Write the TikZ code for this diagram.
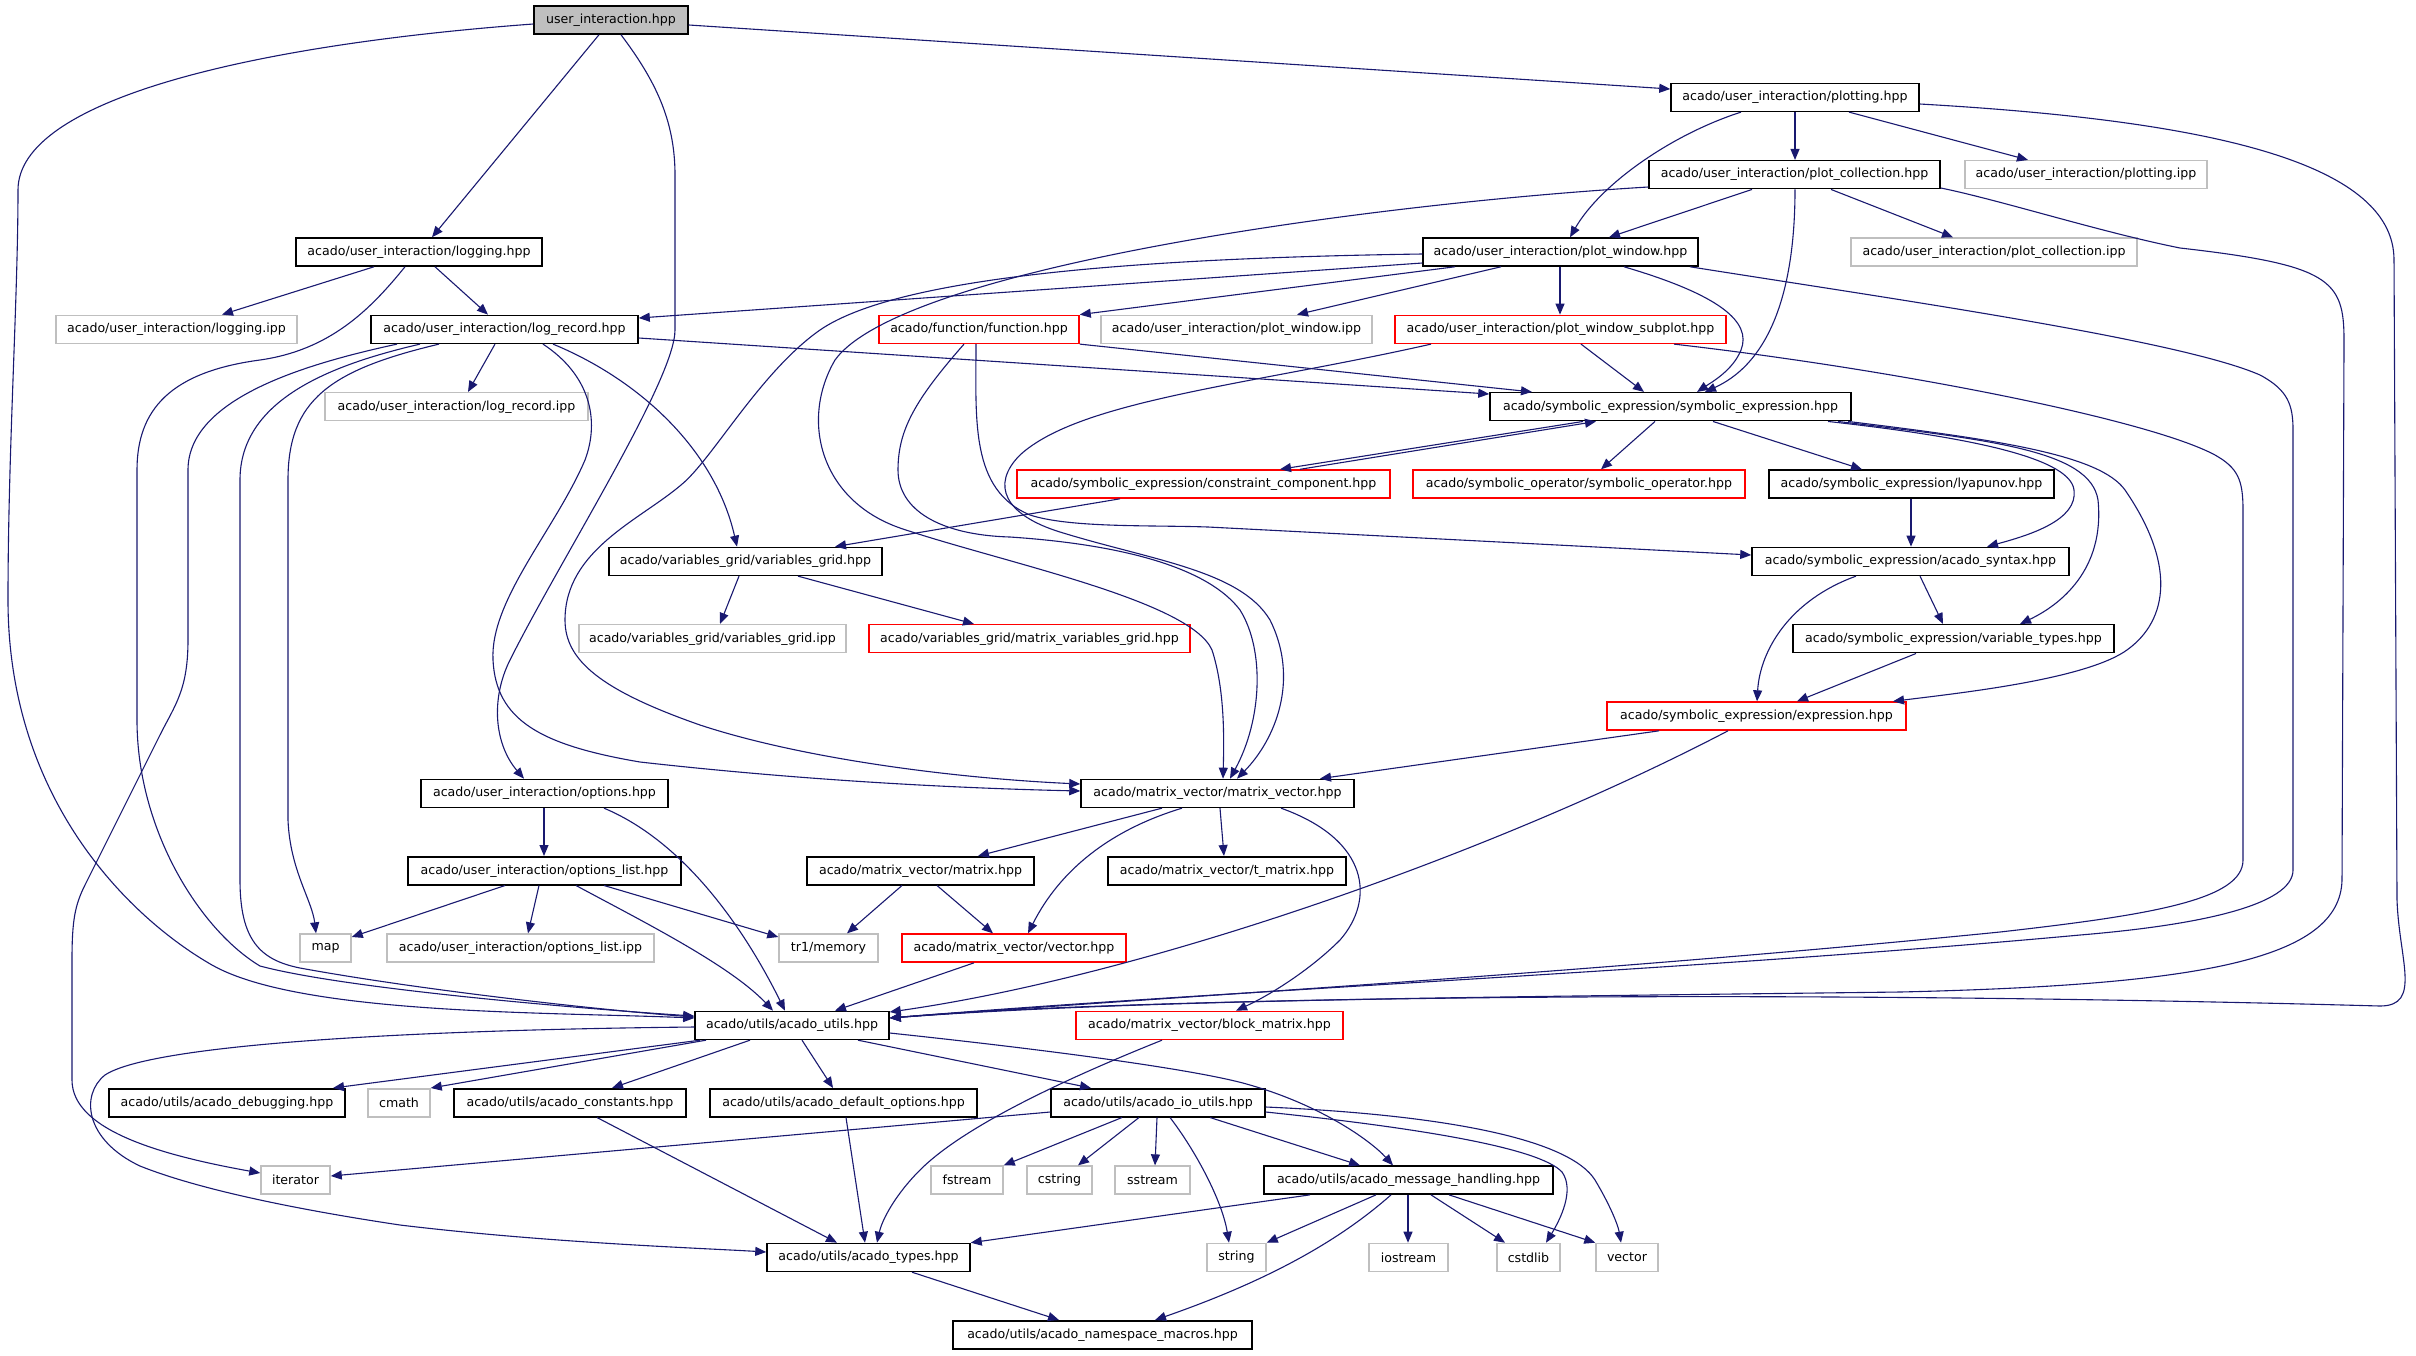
\documentclass[tikz,border=0pt]{standalone}
\usepackage{fontspec}
\setmainfont{DejaVu Sans}
\usetikzlibrary{arrows.meta}
\definecolor{edgec}{HTML}{191970}
\definecolor{grayb}{HTML}{BFBFBF}
\definecolor{redb}{HTML}{FF0000}
\newcommand{\gn}[6]{\node[#1,minimum width={(#4)-(#3)}] (#2) at ({((#3)+(#4))/2},{20+77.34*(#5)}) {#6};}
\begin{document}
\begin{tikzpicture}[x=1pt,y=-1pt,
  nbase/.style={rectangle,inner sep=0pt,minimum height=28pt,font=\fontsize{12.6}{15}\selectfont,line width=1.5pt,fill=white},
  nblk/.style={nbase,draw=black},
  ngray/.style={nbase,draw=grayb},
  nred/.style={nbase,draw=redb},
  nroot/.style={nbase,draw=black,fill=grayb},
  dep/.style={draw=edgec,line width=1.1pt,-{Triangle[length=11pt,width=9pt]}}]
\fill[white] (0,0) rectangle (2416,1355);
\useasboundingbox (0,0) rectangle (2416,1355);
% nodes
\gn{nroot}{ui}{534}{688}{0}{user\_interaction.hpp}
\gn{nblk}{plotting}{1671}{1919}{1}{acado/user\_interaction/plotting.hpp}
\gn{nblk}{pc}{1649}{1940}{2}{acado/user\_interaction/plot\_collection.hpp}
\gn{ngray}{plottingipp}{1965}{2207}{2}{acado/user\_interaction/plotting.ipp}
\gn{nblk}{logging}{296}{542}{3}{acado/user\_interaction/logging.hpp}
\gn{nblk}{pw}{1423}{1698}{3}{acado/user\_interaction/plot\_window.hpp}
\gn{ngray}{pcipp}{1851}{2137}{3}{acado/user\_interaction/plot\_collection.ipp}
\gn{ngray}{loggingipp}{56}{297}{4}{acado/user\_interaction/logging.ipp}
\gn{nblk}{logrec}{371}{638}{4}{acado/user\_interaction/log\_record.hpp}
\gn{nred}{func}{879}{1079}{4}{acado/function/function.hpp}
\gn{ngray}{pwipp}{1101}{1372}{4}{acado/user\_interaction/plot\_window.ipp}
\gn{nred}{subplot}{1395}{1726}{4}{acado/user\_interaction/plot\_window\_subplot.hpp}
\gn{ngray}{logrecipp}{325}{588}{5}{acado/user\_interaction/log\_record.ipp}
\gn{nblk}{se}{1490}{1851}{5}{acado/symbolic\_expression/symbolic\_expression.hpp}
\gn{nred}{cc}{1017}{1390}{6}{acado/symbolic\_expression/constraint\_component.hpp}
\gn{nred}{so}{1413}{1745}{6}{acado/symbolic\_operator/symbolic\_operator.hpp}
\gn{nblk}{lyap}{1769}{2054}{6}{acado/symbolic\_expression/lyapunov.hpp}
\gn{nblk}{vg}{609}{882}{7}{acado/variables\_grid/variables\_grid.hpp}
\gn{nblk}{syntax}{1752}{2069}{7}{acado/symbolic\_expression/acado\_syntax.hpp}
\gn{ngray}{vgipp}{579}{846}{8}{acado/variables\_grid/variables\_grid.ipp}
\gn{nred}{mvg}{869}{1190}{8}{acado/variables\_grid/matrix\_variables\_grid.hpp}
\gn{nblk}{vt}{1793}{2114}{8}{acado/symbolic\_expression/variable\_types.hpp}
\gn{nred}{expr}{1607}{1906}{9}{acado/symbolic\_expression/expression.hpp}
\gn{nblk}{options}{421}{668}{10}{acado/user\_interaction/options.hpp}
\gn{nblk}{mv}{1081}{1354}{10}{acado/matrix\_vector/matrix\_vector.hpp}
\gn{nblk}{optlist}{408}{681}{11}{acado/user\_interaction/options\_list.hpp}
\gn{nblk}{matrix}{807}{1034}{11}{acado/matrix\_vector/matrix.hpp}
\gn{nblk}{tmatrix}{1108}{1346}{11}{acado/matrix\_vector/t\_matrix.hpp}
\gn{ngray}{map}{300}{351}{12}{map}
\gn{ngray}{optlistipp}{387}{654}{12}{acado/user\_interaction/options\_list.ipp}
\gn{ngray}{tr1}{779}{878}{12}{tr1/memory}
\gn{nred}{vector}{902}{1126}{12}{acado/matrix\_vector/vector.hpp}
\gn{nblk}{au}{695}{889}{13}{acado/utils/acado\_utils.hpp}
\gn{nred}{block}{1076}{1343}{13}{acado/matrix\_vector/block\_matrix.hpp}
\gn{nblk}{debug}{109}{345}{14}{acado/utils/acado\_debugging.hpp}
\gn{ngray}{cmath}{368}{430}{14}{cmath}
\gn{nblk}{const}{454}{686}{14}{acado/utils/acado\_constants.hpp}
\gn{nblk}{defopt}{710}{977}{14}{acado/utils/acado\_default\_options.hpp}
\gn{nblk}{io}{1051}{1265}{14}{acado/utils/acado\_io\_utils.hpp}
\gn{ngray}{iterator}{261}{330}{15}{iterator}
\gn{ngray}{fstream}{931}{1003}{15}{fstream}
\gn{ngray}{cstring}{1027}{1092}{15}{cstring}
\gn{ngray}{sstream}{1115}{1190}{15}{sstream}
\gn{nblk}{msg}{1264}{1553}{15}{acado/utils/acado\_message\_handling.hpp}
\gn{nblk}{types}{767}{970}{16}{acado/utils/acado\_types.hpp}
\gn{ngray}{string}{1207}{1266}{16}{string}
\gn{ngray}{iostream}{1369}{1448}{16}{iostream}
\gn{ngray}{cstdlib}{1497}{1560}{16}{cstdlib}
\gn{ngray}{vectorstd}{1596}{1658}{16}{vector}
\gn{nblk}{ns}{953}{1252}{17}{acado/utils/acado\_namespace\_macros.hpp}
% edges from user_interaction
\draw[dep] (ui.west|-0,24) .. controls (250,45) and (18,100) .. (18,190) .. controls (18,300) and (8,450) .. (8,600) .. controls (8,800) and (130,918) .. (212,965) .. controls (300,1015) and (550,1012) .. (au.west|-0,1018);
\draw[dep] (ui.south-|599,0) -- (logging.north-|432,0);
\draw[dep] (ui.south-|621,0) .. controls (655,80) and (675,120) .. (675,175) -- (675,330) .. controls (675,380) and (560,560) .. (510,660) .. controls (490,700) and (495,745) .. (options.north-|524,0);
\draw[dep] (ui.east|-0,25) -- (plotting.west|-0,89);
% plotting
\draw[dep] (plotting.south-|1795,0) -- (pc.north-|1795,0);
\draw[dep] (plotting.south-|1849,0) -- (plottingipp.north-|2028,0);
\draw[dep] (plotting.south-|1741,0) .. controls (1670,135) and (1600,185) .. (pw.north-|1570,0);
\draw[dep] (plotting.east|-0,104) .. controls (2200,120) and (2394,160) .. (2394,260) -- (2397,900) .. controls (2399,960) and (2422,1006) .. (2380,1006) .. controls (1800,990) and (1200,995) .. (au.east|-0,1018);
% plot_collection
\draw[dep] (pc.south-|1831,0) -- (pcipp.north-|1953,0);
\draw[dep] (pc.south-|1752,0) -- (pw.north-|1609,0);
\draw[dep] (pc.south-|1795,0) .. controls (1795,280) and (1775,360) .. (se.north-|1705,0);
\draw[dep] (pc.west|-0,187) .. controls (1350,205) and (900,270) .. (835,360) .. controls (800,420) and (820,500) .. (900,528) .. controls (1000,562) and (1190,600) .. (1212,650) .. controls (1225,690) and (1224,740) .. (mv.north-|1223,0);
\draw[dep] (pc.east|-0,188) .. controls (2000,200) and (2100,232) .. (2180,248) .. controls (2330,265) and (2344,280) .. (2344,340) -- (2342,880) .. controls (2340,960) and (2200,985) .. (1900,992) .. controls (1500,997) and (1100,1000) .. (au.east|-0,1018);
% plot_window
\draw[dep] (pw.west|-0,263) -- (logrec.east|-0,318);
\draw[dep] (pw.south-|1455,0) -- (func.north east);
\draw[dep] (pw.south-|1501,0) -- (pwipp.north-|1297,0);
\draw[dep] (pw.south-|1560,0) -- (subplot.north-|1560,0);
\draw[dep] (pw.south-|1624,0) .. controls (1720,295) and (1752,322) .. (1741,350) .. controls (1733,370) and (1712,382) .. (se.north-|1697,0);
\draw[dep] (pw.south-|1690,0) .. controls (1900,300) and (2180,340) .. (2260,375) .. controls (2288,390) and (2293,405) .. (2293,430) -- (2293,870) .. controls (2293,905) and (2200,925) .. (2080,935) .. controls (1700,970) and (1200,992) .. (au.east|-0,1018);
\draw[dep] (pw.west|-0,254) .. controls (1150,258) and (900,275) .. (820,330) .. controls (760,372) and (712,460) .. (681,485) .. controls (640,520) and (565,550) .. (565,620) .. controls (565,660) and (600,690) .. (700,725) .. controls (800,758) and (950,778) .. (mv.west|-0,784);
% log_record
\draw[dep] (logrec.south-|495,0) -- (logrecipp.north-|468,0);
\draw[dep] (logrec.east|-0,338) -- (se.west|-0,394);
\draw[dep] (logrec.south-|553,0) .. controls (640,380) and (715,450) .. (vg.north-|737,0);
\draw[dep] (logrec.south-|543,0) .. controls (590,375) and (600,420) .. (585,460) .. controls (555,530) and (490,600) .. (493,660) .. controls (496,720) and (540,745) .. (640,762) .. controls (800,780) and (950,788) .. (mv.west|-0,791);
\draw[dep] (logrec.south-|439,0) .. controls (330,370) and (288,400) .. (288,480) -- (288,820) .. controls (290,870) and (312,900) .. (map.north-|316,0);
\draw[dep] (logrec.south-|420,0) .. controls (330,365) and (240,400) .. (240,480) -- (240,880) .. controls (240,940) and (260,960) .. (300,968) .. controls (420,990) and (600,1010) .. (au.west|-0,1017);
\draw[dep] (logrec.south-|397,0) .. controls (300,365) and (188,400) .. (188,470) -- (188,640) .. controls (188,690) and (175,705) .. (160,735) -- (85,885) .. controls (75,905) and (72,920) .. (72,960) -- (72,1080) .. controls (72,1130) and (160,1155) .. (iterator.west|-0,1173);
% logging
\draw[dep] (logging.south-|374,0) -- (loggingipp.north-|222,0);
\draw[dep] (logging.south-|435,0) -- (logrec.north-|488,0);
\draw[dep] (logging.south-|405,0) .. controls (370,310) and (330,350) .. (260,360) .. controls (170,372) and (137,410) .. (137,470) -- (137,720) .. controls (137,830) and (200,930) .. (260,966) .. controls (350,990) and (600,1010) .. (au.west|-0,1016);
% options
\draw[dep] (options.south-|544,0) -- (optlist.north-|544,0);
\draw[dep] (options.south-|604,0) .. controls (680,840) and (740,920) .. (au.north-|785,0);
\draw[dep] (optlist.south-|505,0) -- (map.east|-0,937);
\draw[dep] (optlist.south-|539,0) -- (optlistipp.north-|528,0);
\draw[dep] (optlist.south-|604,0) -- (tr1.west|-0,937);
\draw[dep] (optlist.south-|576,0) .. controls (640,920) and (730,965) .. (au.north-|773,0);
% matrix_vector
\draw[dep] (mv.south-|1162,0) -- (matrix.north-|978,0);
\draw[dep] (mv.south-|1182,0) .. controls (1110,830) and (1060,870) .. (vector.north-|1028,0);
\draw[dep] (mv.south-|1220,0) -- (tmatrix.north-|1224,0);
\draw[dep] (mv.south-|1281,0) .. controls (1370,840) and (1375,900) .. (1340,940) .. controls (1310,970) and (1270,995) .. (block.north-|1236,0);
\draw[dep] (matrix.south-|902,0) -- (tr1.north-|847,0);
\draw[dep] (matrix.south-|937,0) -- (vector.north-|993,0);
\draw[dep] (vector.south-|974,0) -- (au.north-|835,0);
\draw[dep] (block.south-|1162,0) .. controls (1050,1085) and (960,1130) .. (920,1170) .. controls (895,1195) and (882,1220) .. (types.north-|877,0);
% symbolic expression family
\draw[dep] (expr.south-|1659,0) -- (mv.north-|1320,0);
\draw[dep] (expr.south-|1728,0) .. controls (1500,850) and (1150,975) .. (au.east|-0,1012);
\draw[dep] (vt.south-|1916,0) -- (expr.north-|1797,0);
\draw[dep] (syntax.south-|1856,0) .. controls (1790,600) and (1760,650) .. (expr.north-|1757,0);
\draw[dep] (syntax.south-|1920,0) -- (vt.north-|1943,0);
\draw[dep] (lyap.south-|1911,0) -- (syntax.north-|1911,0);
\draw[dep] (vg.south-|739,0) -- (vgipp.north-|720,0);
\draw[dep] (vg.south-|798,0) -- (mvg.north-|974,0);
\draw[dep] (cc.south-|1120,0) -- (vg.north-|835,0);
\draw[dep] (cc.north-|1300,0) -- (se.south-|1596,0);
\draw[dep] (se.south-|1583,0) -- (cc.north-|1280,0);
\draw[dep] (se.south-|1655,0) -- (so.north-|1601,0);
\draw[dep] (se.south-|1713,0) -- (lyap.north-|1862,0);
\draw[dep] (se.south-|1828,0) .. controls (1950,435) and (2070,455) .. (2074,490) .. controls (2078,520) and (2030,535) .. (syntax.north-|1987,0);
\draw[dep] (se.south-|1838,0) .. controls (1990,440) and (2090,450) .. (2098,500) .. controls (2105,570) and (2060,605) .. (vt.north-|2020,0);
\draw[dep] (se.south-|1848,0) .. controls (2000,440) and (2100,455) .. (2125,490) .. controls (2180,570) and (2165,625) .. (2124,652) .. controls (2080,680) and (1960,693) .. (expr.north-|1893,0);
% function and subplot
\draw[dep] (func.south east) -- (se.north-|1532,0);
\draw[dep] (func.south-|964,0) .. controls (915,400) and (898,430) .. (898,470) .. controls (898,510) and (940,535) .. (1010,537) .. controls (1130,545) and (1210,570) .. (1240,610) .. controls (1265,650) and (1262,720) .. (mv.north-|1230,0);
\draw[dep] (subplot.south-|1431,0) .. controls (1250,385) and (1080,400) .. (1020,455) .. controls (990,485) and (1005,515) .. (1060,532) .. controls (1150,560) and (1240,570) .. (1270,620) .. controls (1300,680) and (1275,740) .. (mv.north-|1237,0);
\draw[dep] (func.south-|976,0) .. controls (976,420) and (970,490) .. (1030,515) .. controls (1070,528) and (1150,525) .. (1208,527) -- (syntax.west|-0,555);
\draw[dep] (subplot.south-|1581,0) -- (se.north-|1644,0);
\draw[dep] (subplot.south-|1674,0) .. controls (1900,370) and (2150,420) .. (2215,455) .. controls (2238,468) and (2243,480) .. (2243,510) -- (2243,860) .. controls (2243,900) and (2150,915) .. (2000,932) .. controls (1600,972) and (1200,995) .. (au.east|-0,1018);
% acado_utils
\draw[dep] (au.south-|700,0) -- (debug.north-|333,0);
\draw[dep] (au.south-|706,0) -- (cmath.north east);
\draw[dep] (au.south-|750,0) -- (const.north-|612,0);
\draw[dep] (au.south-|802,0) -- (defopt.north-|833,0);
\draw[dep] (au.south-|858,0) -- (io.north-|1091,0);
\draw[dep] (au.east|-0,1033) .. controls (1050,1050) and (1200,1070) .. (1250,1085) .. controls (1320,1105) and (1370,1140) .. (msg.north-|1393,0);
\draw[dep] (au.west|-0,1027) .. controls (400,1030) and (150,1045) .. (105,1075) .. controls (80,1095) and (85,1140) .. (140,1166) .. controls (200,1190) and (300,1210) .. (400,1225) .. controls (550,1243) and (700,1248) .. (types.west|-0,1252);
% io utils
\draw[dep] (io.west|-0,1112) -- (iterator.east|-0,1176);
\draw[dep] (io.south-|1122,0) -- (fstream.north east);
\draw[dep] (io.south-|1139,0) -- (cstring.north-|1078,0);
\draw[dep] (io.south-|1157,0) -- (sstream.north-|1155,0);
\draw[dep] (io.south-|1170,0) .. controls (1195,1150) and (1222,1200) .. (string.north-|1229,0);
\draw[dep] (io.south-|1210,0) -- (msg.north-|1360,0);
\draw[dep] (io.east|-0,1112) .. controls (1420,1128) and (1540,1148) .. (1562,1172) .. controls (1575,1190) and (1560,1220) .. (cstdlib.north-|1546,0);
\draw[dep] (io.east|-0,1107) .. controls (1450,1115) and (1570,1140) .. (1595,1180) .. controls (1610,1205) and (1618,1225) .. (vectorstd.north-|1621,0);
% message handling
\draw[dep] (msg.south-|1310,0) -- (types.north east);
\draw[dep] (msg.south-|1376,0) -- (string.north east);
\draw[dep] (msg.south-|1408,0) -- (iostream.north-|1408,0);
\draw[dep] (msg.south-|1431,0) -- (cstdlib.north-|1505,0);
\draw[dep] (msg.south-|1449,0) -- (vectorstd.north west);
\draw[dep] (msg.south-|1391,0) .. controls (1340,1240) and (1270,1280) .. (ns.north-|1155,0);
% types
\draw[dep] (types.south-|912,0) -- (ns.north-|1059,0);
\draw[dep] (const.south-|597,0) -- (types.north-|837,0);
\draw[dep] (defopt.south-|846,0) -- (types.north-|865,0);
\end{tikzpicture}
\end{document}
